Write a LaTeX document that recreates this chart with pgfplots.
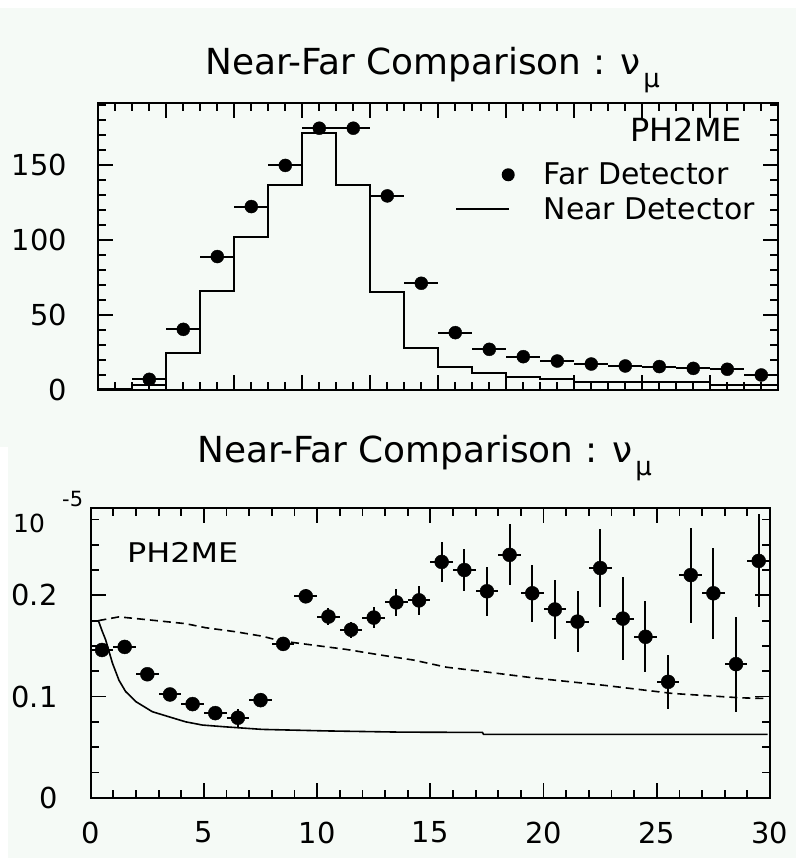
\documentclass[border=0pt]{standalone}
\usepackage{fontspec}
\setmainfont{DejaVu Sans}
\usepackage{graphicx}
\usepackage{pgfplots}
\pgfplotsset{compat=1.18}
\definecolor{mint}{RGB}{245,250,246}
\pgfplotsset{
  paw/.style={
    scale only axis,
    axis line style={line width=1.8bp},
    tick style={line width=1.8bp, black},
    major tick length=15bp,
    minor tick length=8bp,
    tick label style={font=\fontsize{29}{29}\selectfont},
    /pgf/number format/assume math mode=true,
    scaled ticks=false,
    yticklabel style={inner sep=0pt, anchor=east},
    xticklabel style={inner sep=0pt, anchor=north, yshift=-24bp},
  },
}
\begin{document}
\begin{tikzpicture}
\fill[white] (0bp,0bp) rectangle (796bp,858bp);
\fill[mint] (0bp,411bp) rectangle (796bp,850bp);
\fill[mint] (8bp,0bp) rectangle (796bp,411bp);

% ---------------- top panel ----------------
\begin{axis}[paw, at={(98.3bp,468bp)}, anchor=south west,
  width=680bp, height=286.7bp,
  xmin=0, xmax=10, ymin=0, ymax=191,
  xtick={1,2,...,9}, xticklabels={},
  minor xtick={0.25,0.5,...,9.75},
  ytick={0,50,100,150},
  minor ytick={10,20,...,190},
  yticklabel style={xshift=-31bp},
  reverse legend,
  legend cell align=left,
  legend style={at={(0.5246,0.792)}, anchor=north west, draw=none, fill=none,
    inner sep=0pt, font=\fontsize{30}{30}\selectfont, row sep=11bp,
    nodes={inner sep=0pt},
    /tikz/every odd column/.append style={column sep=29bp}},
]
\addplot[const plot, black, line width=2bp,
  legend image code/.code={\draw[line width=2bp] (0bp,0bp) -- (53bp,0bp);}]
  coordinates {
  (0,0.5) (0.5,3.3) (1,24.4) (1.5,66.2) (2,101.8) (2.5,136.7) (3,171)
  (3.5,136.7) (4,65) (4.5,28) (5,15.6) (5.5,11.6) (6,8.4) (6.5,7.5)
  (7,5.6) (7.5,5.6) (8,5.1) (8.5,5.1) (9,3.3) (9.5,3.3) (10,3.3)
  };
\addlegendentry{Near Detector}
\addplot[only marks, mark=*, mark size=6.5bp, black,
  legend image code/.code={\path[draw=none,fill=none] (0bp,0bp) -- (53bp,0bp); \fill[black,draw=none] (52bp,0bp) circle (6.5bp);},
  error bars/.cd, x dir=both, x explicit,
  error bar style={line width=2bp}, error mark=none]
  coordinates {
  (0.75,7.1) +- (0.25,0)
  (1.25,40.4) +- (0.25,0)
  (1.75,88.9) +- (0.25,0)
  (2.25,122.2) +- (0.25,0)
  (2.75,149.6) +- (0.25,0)
  (3.25,174.4) +- (0.25,0)
  (3.75,174.4) +- (0.25,0)
  (4.25,129.3) +- (0.25,0)
  (4.75,71.1) +- (0.25,0)
  (5.25,38.2) +- (0.25,0)
  (5.75,27.1) +- (0.25,0)
  (6.25,22.2) +- (0.25,0)
  (6.75,19.3) +- (0.25,0)
  (7.25,17.3) +- (0.25,0)
  (7.75,16.0) +- (0.25,0)
  (8.25,15.6) +- (0.25,0)
  (8.75,14.4) +- (0.25,0)
  (9.25,13.8) +- (0.25,0)
  (9.75,10.0) +- (0.25,0)
  };
\addlegendentry{Far Detector}
\node[anchor=base east, inner sep=0pt, font=\fontsize{32}{32}\selectfont]
  at (rel axis cs:0.9466,0.865) {PH2ME};
\end{axis}

% ---------------- bottom panel ----------------
\begin{axis}[paw, at={(90.7bp,60.3bp)}, anchor=south west,
  width=679.3bp, height=289.4bp,
  xmin=0, xmax=30, ymin=0, ymax=0.286,
  xtick={0,5,...,30},
  minor xtick={1,2,...,29},
  ytick={0,0.1,0.2}, yticklabels={0,0.1,0.2},
  minor ytick={0.025,0.05,0.075,0.125,0.15,0.175,0.225,0.25,0.275},
  yticklabel style={xshift=-33bp},
]
\addplot[black, line width=1.6bp] coordinates {
  (0.34,0.175) (0.5,0.165) (0.66,0.156) (0.96,0.133) (1.25,0.116) (1.54,0.105)
  (1.99,0.095) (2.72,0.085) (3.45,0.080) (4.19,0.075) (4.93,0.0718) (5.96,0.070)
  (7.57,0.0675) (10.4,0.066) (13.7,0.0648) (17.3,0.0645) (17.35,0.0626) (29.9,0.0626)
  };
\addplot[black, line width=1.6bp, dash pattern=on 8bp off 5bp] coordinates {
  (0.34,0.175) (1.25,0.1787) (2.72,0.1754) (4.19,0.172) (5.07,0.168) (6.4,0.164)
  (7.57,0.1596) (8.38,0.155) (9.85,0.1507) (11.3,0.1465) (12.8,0.141) (14.26,0.136)
  (15.7,0.129) (17.2,0.125) (19.7,0.118) (22.7,0.111) (25.7,0.103) (28.7,0.0987)
  (29.9,0.098)
  };
\addplot[only marks, mark=*, mark size=7bp, black,
  error bars/.cd, x dir=both, x explicit, y dir=both, y explicit,
  error bar style={line width=2bp}, error mark=none]
  coordinates {
  (0.5,0.146) +- (0.5,0.005)
  (1.5,0.149) +- (0.5,0.005)
  (2.5,0.122) +- (0.5,0.005)
  (3.5,0.102) +- (0.5,0.005)
  (4.5,0.0925) +- (0.5,0.006)
  (5.5,0.0836) +- (0.5,0.006)
  (6.5,0.079) +- (0.5,0.009)
  (7.5,0.0964) +- (0.5,0.007)
  (8.5,0.152) +- (0.5,0.007)
  (9.5,0.199) +- (0.5,0.007)
  (10.5,0.179) +- (0.5,0.008)
  (11.5,0.166) +- (0.5,0.008)
  (12.5,0.178) +- (0.5,0.010)
  (13.5,0.193) +- (0.5,0.013)
  (14.5,0.195) +- (0.5,0.014)
  (15.5,0.233) +- (0.5,0.020)
  (16.5,0.225) +- (0.5,0.021)
  (17.5,0.204) +- (0.5,0.024)
  (18.5,0.240) +- (0.5,0.030)
  (19.5,0.202) +- (0.5,0.028)
  (20.5,0.186) +- (0.5,0.029)
  (21.5,0.174) +- (0.5,0.030)
  (22.5,0.227) +- (0.5,0.039)
  (23.5,0.177) +- (0.5,0.041)
  (24.5,0.159) +- (0.5,0.035)
  (25.5,0.1145) +- (0.5,0.027)
  (26.5,0.220) +- (0.5,0.047)
  (27.5,0.202) +- (0.5,0.045)
  (28.5,0.132) +- (0.5,0.047)
  (29.5,0.234) +- (0.5,0.046)
  };
\node[anchor=base west, inner sep=0pt, font=\fontsize{32}{32}\selectfont]
  at (rel axis cs:0.0534,0.8136) {\scalebox{1}[0.85]{PH2ME}};
\end{axis}

% titles and exponent
\node[anchor=base west, inner sep=0pt, font=\fontsize{36}{36}\selectfont]
  at (205bp,783bp) {Near-Far Comparison : ν\kern3bp\raisebox{-13bp}{\fontsize{26}{26}\selectfont μ}};
\node[anchor=base west, inner sep=0pt, font=\fontsize{36}{36}\selectfont]
  at (197bp,395bp) {Near-Far Comparison : ν\kern3bp\raisebox{-13bp}{\fontsize{26}{26}\selectfont μ}};
\node[anchor=base west, inner sep=0pt, font=\fontsize{25}{25}\selectfont]
  at (13bp,325bp) {10};
\node[anchor=base west, inner sep=0pt, font=\fontsize{21}{21}\selectfont]
  at (62bp,351bp) {-5};

\pgfresetboundingbox
\path[use as bounding box] (0bp,0bp) rectangle (796bp,858bp);
\end{tikzpicture}
\end{document}
